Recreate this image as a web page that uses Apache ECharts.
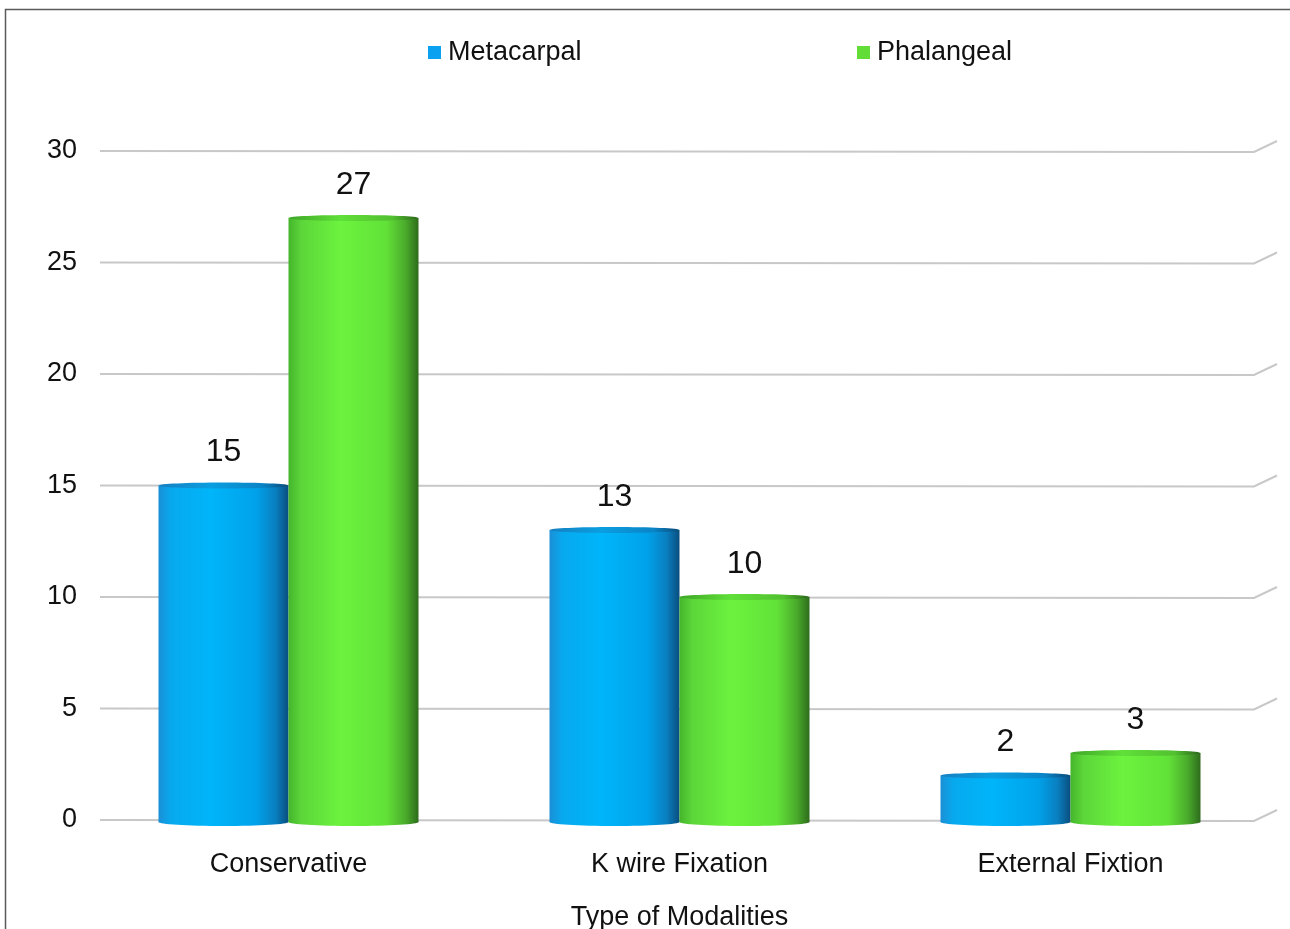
<!DOCTYPE html>
<html>
<head>
<meta charset="utf-8">
<script src="https://cdn.jsdelivr.net/npm/echarts@6/dist/echarts.min.js"></script>
<style>
  html, body { margin: 0; padding: 0; background: #ffffff; }
  #chart { width: 1290px; height: 929px; }
</style>
</head>
<body>
<div id="chart"></div>
<script>
// Treatment modality counts by fracture site
const categories = ['Conservative', 'K wire Fixation', 'External Fixtion'];
const metacarpal = [15, 13, 2];
const phalangeal = [27, 10, 3];
const yTicks = [0, 5, 10, 15, 20, 25, 30];
const seriesNames = ['Metacarpal', 'Phalangeal'];

const FONT = '"Liberation Sans", Arial, sans-serif';

// Horizontal shading that gives each bar a rounded, cylinder-like look
const blueBody = [
  { offset: 0, color: '#1b8fd6' },
  { offset: 0.1, color: '#07a9ee' },
  { offset: 0.4, color: '#00b5fa' },
  { offset: 0.75, color: '#00a2ea' },
  { offset: 0.9, color: '#0a7fc0' },
  { offset: 1, color: '#0a4e7e' }
];
const blueCap = [
  { offset: 0, color: '#1580c2' },
  { offset: 0.4, color: '#0a9ee0' },
  { offset: 0.8, color: '#0a84c6' },
  { offset: 1, color: '#0a4a78' }
];
const greenBody = [
  { offset: 0, color: '#45b52c' },
  { offset: 0.1, color: '#5cd63a' },
  { offset: 0.4, color: '#6cf33e' },
  { offset: 0.75, color: '#62e238' },
  { offset: 0.9, color: '#4aab2b' },
  { offset: 1, color: '#2e6c1c' }
];
const greenCap = [
  { offset: 0, color: '#3fa528' },
  { offset: 0.4, color: '#60e038' },
  { offset: 0.8, color: '#52c030' },
  { offset: 1, color: '#2c661a' }
];

function toPairs(values) {
  return values.map(function (v, i) { return [i, v]; });
}

// Draws one cylinder (body, bottom rim, top cap) plus its value label
function cylinderRenderer(side, bodyStops, capStops) {
  return function (params, api) {
    const ci = api.value(0);
    const v = api.value(1);
    const top = api.coord([ci, v]);
    const base = api.coord([ci, 0]);
    const band = api.size([1, 0])[0];
    const w = band * 0.3325;
    const x0 = side < 0 ? top[0] - w : top[0];
    const cx = x0 + w / 2;
    const rx = w / 2;
    const ry = 4;
    const bottomY = base[1] + 2;
    const body = new echarts.graphic.LinearGradient(0, 0, 1, 0, bodyStops);
    const cap = new echarts.graphic.LinearGradient(0, 0, 1, 0, capStops);
    return {
      type: 'group',
      children: [
        {
          type: 'ellipse',
          shape: { cx: cx, cy: bottomY, rx: rx, ry: ry },
          style: { fill: body }
        },
        {
          type: 'rect',
          shape: { x: x0, y: top[1], width: w, height: bottomY - top[1] },
          style: { fill: body }
        },
        {
          type: 'ellipse',
          shape: { cx: cx, cy: top[1], rx: rx, ry: 3 },
          style: { fill: cap }
        },
        {
          type: 'text',
          style: {
            text: String(v),
            x: cx,
            y: top[1] - 33,
            align: 'center',
            verticalAlign: 'middle',
            fontSize: 32,
            fontFamily: FONT,
            fill: '#111111'
          }
        }
      ]
    };
  };
}

// Floor lines with a short receding stroke at the back-right corner
function gridLineRenderer(params, api) {
  const cs = params.coordSys;
  const y = api.coord([0, api.value(1)])[1];
  const left = cs.x + 7;
  const right = cs.x + cs.width - 12;
  return {
    type: 'polyline',
    shape: { points: [[left, y], [right, y + 1], [right + 23, y - 10]] },
    style: { stroke: '#c8c8c8', lineWidth: 2, fill: null }
  };
}

const chart = echarts.init(document.getElementById('chart'), null, { renderer: 'canvas' });

const legendText = { fontSize: 27, fontFamily: FONT, color: '#111111', padding: [0, 0, 0, 2] };

chart.setOption({
  backgroundColor: '#ffffff',
  animation: false,
  graphic: [
    {
      type: 'rect',
      shape: { x: 5.5, y: 9.5, width: 1300, height: 1000 },
      style: { fill: null, stroke: '#5a5a5a', lineWidth: 1.5 },
      z: -10
    }
  ],
  legend: [
    {
      data: [seriesNames[0]],
      left: 423,
      top: 34,
      icon: 'rect',
      itemWidth: 13,
      itemHeight: 13,
      itemGap: 0,
      textStyle: legendText
    },
    {
      data: [seriesNames[1]],
      left: 852,
      top: 34,
      icon: 'rect',
      itemWidth: 13,
      itemHeight: 13,
      itemGap: 0,
      textStyle: legendText
    }
  ],
  grid: { left: 93, right: 24, top: 151, bottom: 109, containLabel: false, outerBoundsMode: 'none' },
  xAxis: {
    type: 'category',
    data: categories,
    axisLine: { show: false },
    axisTick: { show: false },
    axisLabel: { fontSize: 27, fontFamily: FONT, color: '#111111', margin: 31 },
    name: 'Type of Modalities',
    nameLocation: 'middle',
    nameGap: 84,
    nameTextStyle: { fontSize: 27, fontFamily: FONT, color: '#111111' }
  },
  yAxis: {
    type: 'value',
    min: 0,
    max: 30,
    interval: 5,
    axisLine: { show: false },
    axisTick: { show: false },
    splitLine: { show: false },
    axisLabel: { fontSize: 27, fontFamily: FONT, color: '#111111', margin: 16 }
  },
  series: [
    {
      type: 'custom',
      name: 'grid',
      silent: true,
      clip: false,
      z: 1,
      renderItem: gridLineRenderer,
      encode: { x: 0, y: 1 },
      data: yTicks.map(function (t) { return [0, t]; })
    },
    {
      type: 'custom',
      name: seriesNames[0],
      z: 3,
      clip: false,
      itemStyle: { color: '#0aa2f0' },
      renderItem: cylinderRenderer(-1, blueBody, blueCap),
      encode: { x: 0, y: 1 },
      data: toPairs(metacarpal)
    },
    {
      type: 'custom',
      name: seriesNames[1],
      z: 3,
      clip: false,
      itemStyle: { color: '#62dc36' },
      renderItem: cylinderRenderer(1, greenBody, greenCap),
      encode: { x: 0, y: 1 },
      data: toPairs(phalangeal)
    }
  ]
});
</script>
</body>
</html>
